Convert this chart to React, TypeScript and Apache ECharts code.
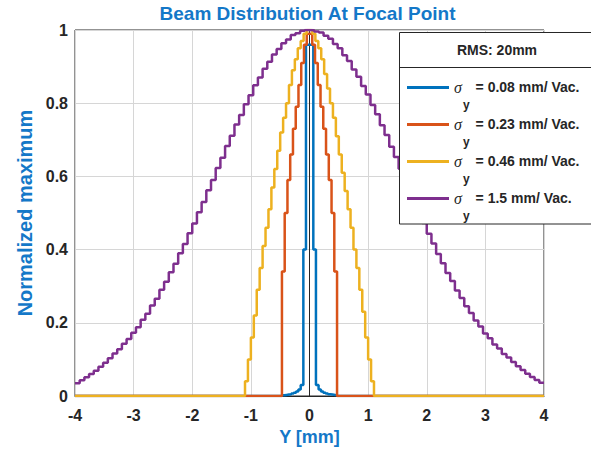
import React, { useEffect, useRef } from 'react';
import * as echarts from 'echarts';

const FONT = "'Liberation Sans', Arial, Helvetica, sans-serif";
const TITLE = 'Beam Distribution At Focal Point';
const X_NAME = 'Y [mm]';
const Y_NAME = 'Normalized maximum';
const LEGEND_HEADER = 'RMS: 20mm';

const sigmaLabels = ['0.08', '0.23', '0.46', '1.5'];
const colors = ['#0072BD', '#D95319', '#EDB120', '#7E2F8E'];

// Blue (sigma 0.08): bin edges and levels
const blueEdges = [-0.47, -0.43, -0.39, -0.35, -0.31, -0.27, -0.23, -0.19, -0.15, -0.105, -0.06, 0.065, 0.11, 0.155, 0.195, 0.235, 0.275, 0.315, 0.355, 0.395, 0.435, 0.475];
const blueLevels = [0.002, 0.003, 0.004, 0.005, 0.007, 0.009, 0.012, 0.018, 0.03, 0.4, 0.96, 0.4, 0.03, 0.018, 0.012, 0.009, 0.007, 0.005, 0.004, 0.003, 0.002];

// Red (sigma 0.23)
const redEdges = [-0.47, -0.423, -0.376, -0.329, -0.282, -0.235, -0.188, -0.141, -0.094, -0.047, 0, 0.047, 0.094, 0.141, 0.188, 0.235, 0.282, 0.329, 0.376, 0.423, 0.47];
const redLevels = [0.34, 0.5, 0.59, 0.66, 0.73, 0.79, 0.85, 0.91, 0.96, 0.99, 0.99, 0.96, 0.91, 0.85, 0.79, 0.73, 0.66, 0.59, 0.5, 0.34];

// Yellow (sigma 0.46): bins of 0.05 from -1.1
const yellowStart = -1.1;
const yellowBin = 0.05;
const yellowLevels = [
  0.04, 0.1, 0.16, 0.22, 0.29, 0.35, 0.41, 0.46, 0.51, 0.57, 0.62,
  0.67, 0.72, 0.76, 0.8, 0.85, 0.89, 0.92, 0.95, 0.97, 0.99, 1.0,
  1.0, 0.99, 0.97, 0.95, 0.92, 0.88, 0.84, 0.8, 0.76, 0.71, 0.66,
  0.61, 0.56, 0.51, 0.46, 0.4, 0.35, 0.29, 0.23, 0.16, 0.1, 0.04,
];

// Purple (sigma 1.5): bins of 0.08 from -4
const purpleStart = -4;
const purpleBin = 0.08;
const purpleLevels = [
  0.035, 0.043, 0.051, 0.06, 0.069, 0.08, 0.091, 0.103, 0.116, 0.128,
  0.143, 0.156, 0.173, 0.188, 0.208, 0.225, 0.247, 0.266, 0.29, 0.312,
  0.338, 0.361, 0.39, 0.415, 0.445, 0.471, 0.502, 0.53, 0.562, 0.59,
  0.623, 0.651, 0.683, 0.711, 0.742, 0.768, 0.797, 0.822, 0.849, 0.87,
  0.894, 0.913, 0.933, 0.948, 0.964, 0.974, 0.986, 0.991, 0.998, 1.0,
  0.999, 0.996, 0.993, 0.984, 0.976, 0.962, 0.95, 0.931, 0.915, 0.892,
  0.872, 0.847, 0.824, 0.795, 0.77, 0.74, 0.713, 0.681, 0.653, 0.621,
  0.592, 0.56, 0.532, 0.5, 0.473, 0.443, 0.417, 0.388, 0.363, 0.336,
  0.314, 0.288, 0.268, 0.245, 0.227, 0.206, 0.19, 0.171, 0.158, 0.141,
  0.13, 0.115, 0.105, 0.093, 0.081, 0.071, 0.061, 0.052, 0.044, 0.036,
];

const X_MIN = -4;
const X_MAX = 4;

function binEdges(start: number, width: number, n: number): number[] {
  const e: number[] = [];
  for (let i = 0; i <= n; i++) e.push(+(start + i * width).toFixed(4));
  return e;
}

function stairs(edges: number[], levels: number[], closeToZero: boolean): number[][] {
  const pts: number[][] = [];
  if (closeToZero) pts.push([X_MIN, 0]);
  for (let i = 0; i < levels.length; i++) pts.push([edges[i], levels[i]]);
  const last = edges[levels.length];
  if (closeToZero) {
    pts.push([last, 0]);
    pts.push([X_MAX, 0]);
  } else {
    pts.push([last, levels[levels.length - 1]]);
  }
  return pts;
}

const seriesData = [
  stairs(blueEdges, blueLevels, true),
  stairs(redEdges, redLevels, true),
  stairs(binEdges(yellowStart, yellowBin, yellowLevels.length), yellowLevels, true),
  stairs(binEdges(purpleStart, purpleBin, purpleLevels.length), purpleLevels, false),
];

const names = sigmaLabels.map((s) => `σy = ${s} mm/ Vac.`);

export default function App() {
  const ref = useRef<HTMLDivElement>(null);
  useEffect(() => {
    if (!ref.current) return;
    const chart = echarts.init(ref.current, null, { renderer: 'svg' });
    const option: any = {
      animation: false,
      backgroundColor: '#ffffff',
      textStyle: { fontFamily: FONT },
      title: {
        text: TITLE,
        left: 307.5,
        top: 4,
        padding: 0,
        textAlign: 'center',
        textStyle: { fontFamily: FONT, fontSize: 19, fontWeight: 'bold', color: '#1478C8' },
      },
      grid: {
        left: 75,
        right: 47,
        top: 30,
        bottom: 56,
        show: true,
        borderColor: '#262626',
        borderWidth: 1,
        backgroundColor: '#ffffff',
        containLabel: false,
      },
      xAxis: {
        type: 'value',
        min: X_MIN,
        max: X_MAX,
        interval: 1,
        name: X_NAME,
        nameLocation: 'middle',
        nameGap: 31,
        nameTextStyle: { fontFamily: FONT, fontSize: 18, fontWeight: 'bold', color: '#1478C8' },
        axisLine: { show: true, onZero: false, lineStyle: { color: '#262626', width: 1 } },
        axisTick: { show: false },
        axisLabel: { color: '#262626', fontWeight: 'bold', fontSize: 16, margin: 11, fontFamily: FONT },
        splitLine: { show: true, lineStyle: { color: '#d6d6d6', width: 1 } },
      },
      yAxis: {
        type: 'value',
        min: 0,
        max: 1,
        interval: 0.2,
        name: Y_NAME,
        nameLocation: 'middle',
        nameGap: 31,
        nameTextStyle: { fontFamily: FONT, fontSize: 20, fontWeight: 'bold', color: '#1478C8' },
        axisLine: { show: true, lineStyle: { color: '#262626', width: 1 } },
        axisTick: { show: false },
        axisLabel: { color: '#262626', fontWeight: 'bold', fontSize: 16, margin: 7, fontFamily: FONT },
        splitLine: { show: true, lineStyle: { color: '#d6d6d6', width: 1 } },
      },
      legend: {
        orient: 'vertical',
        left: 407,
        top: 79.4,
        padding: 0,
        itemGap: 5,
        itemWidth: 42,
        itemHeight: 3,
        icon: 'rect',
        selectedMode: false,
        z: 110,
        data: names,
        formatter: (name: string) => {
          const v = name.replace('σy', '').trim();
          return `{g|σ}{y|y}{t|${v}}`;
        },
        textStyle: {
          fontFamily: FONT,
          rich: {
            g: { fontFamily: "'Liberation Serif', 'DejaVu Serif', serif", fontStyle: 'italic', fontSize: 16, color: '#262626', lineHeight: 48, verticalAlign: 'middle' },
            y: { fontFamily: FONT, fontSize: 12, fontWeight: 'bold', color: '#262626', lineHeight: 14, verticalAlign: 'bottom', padding: [0, 0, 0, 1] },
            t: { fontFamily: FONT, fontSize: 14, fontWeight: 'bold', color: '#262626', lineHeight: 48, verticalAlign: 'middle', padding: [0, 0, 0, 6] },
          },
        },
      },
      graphic: [
        {
          type: 'rect',
          z: 100,
          shape: { x: 399.5, y: 32.5, width: 193, height: 191.5 },
          style: { fill: '#ffffff', stroke: '#262626', lineWidth: 1 },
        },
        {
          type: 'line',
          z: 101,
          shape: { x1: 399.5, y1: 67.5, x2: 592, y2: 67.5 },
          style: { stroke: '#262626', lineWidth: 1 },
        },
        {
          type: 'text',
          z: 101,
          x: 497,
          y: 50,
          style: { text: LEGEND_HEADER, fontFamily: FONT, fontSize: 14, fontWeight: 'bold', fill: '#262626', align: 'center', verticalAlign: 'middle' },
        },
      ],
      series: seriesData.map((d, i) => ({
        name: names[i],
        type: 'line',
        step: 'end',
        data: d,
        showSymbol: false,
        symbol: 'none',
        color: colors[i],
        lineStyle: { color: colors[i], width: 2.5 },
        emphasis: { disabled: true },
        z: 2 + i * 0.01,
      })),
    };
    chart.setOption(option);
    return () => chart.dispose();
  }, []);
  return (
    <div
      ref={ref}
      style={{ position: 'absolute', left: 0, top: 0, width: 591, height: 452, background: '#fff' }}
    />
  );
}
